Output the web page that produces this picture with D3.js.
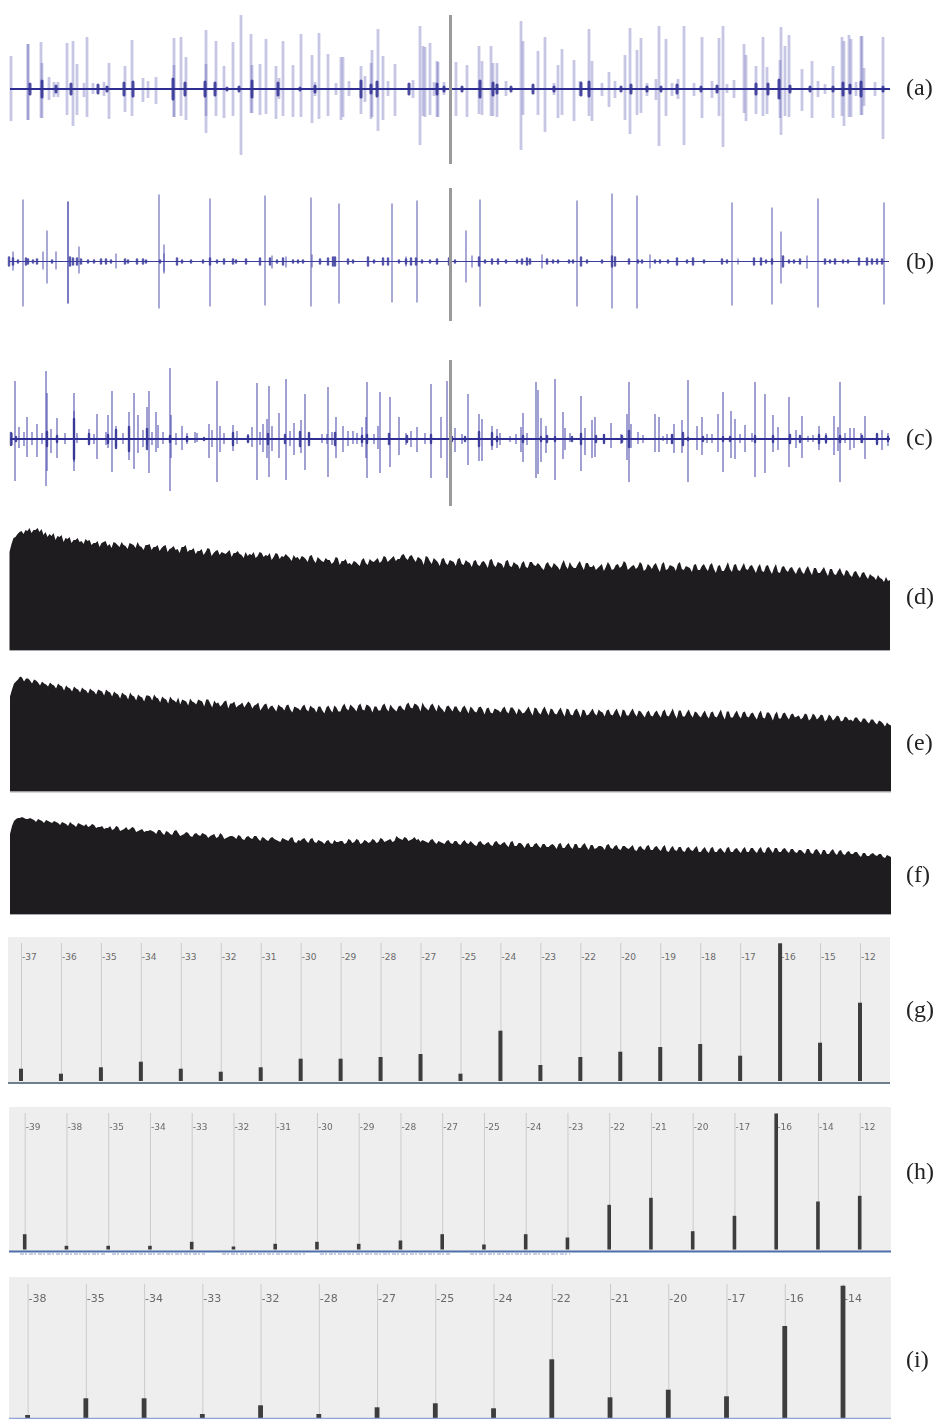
<!DOCTYPE html>
<html>
<head>
<meta charset="utf-8">
<script src="https://cdn.jsdelivr.net/npm/d3@7"></script>
<style>
  html, body { margin: 0; padding: 0; background: #fff; }
  svg { display: block; }
</style>
</head>
<body>
<div id="container"></div>
<script>
// waveform spikes: [time, up, down]
const spikesA = [[11,33,32],[28,45,31],[28,45,31],[41,47,29],[42,26,29],[49,12,11],[54,7,8],[58,7,8],[67,46,26],[73,48,37],[77,25,26],[87,52,28],[84,6,8],[93,6,5],[104,7,7],[109,26,30],[125,23,23],[132,49,27],[143,11,13],[148,8,9],[156,12,15],[174,51,28],[174,24,28],[181,52,27],[186,32,31],[206,59,44],[206,25,27],[216,48,27],[224,23,29],[233,47,27],[241,74,66],[251,55,24],[252,24,24],[260,25,26],[266,50,25],[276,23,30],[279,11,10],[283,48,27],[293,24,28],[301,55,28],[312,34,34],[319,56,30],[315,7,7],[328,35,27],[336,6,6],[341,32,31],[343,32,28],[349,8,7],[361,23,25],[365,13,13],[371,26,30],[372,39,28],[378,60,42],[383,33,31],[388,8,7],[395,25,27],[413,9,9],[420,63,56],[423,43,27],[425,42,28],[430,46,26],[434,7,7],[437,28,28],[438,27,28],[444,7,6],[456,27,27],[467,24,28],[479,43,25],[482,28,26],[491,43,27],[493,26,27],[497,26,28],[506,8,7],[521,68,61],[523,48,26],[538,38,26],[545,52,43],[558,24,29],[562,40,26],[554,6,6],[574,29,32],[580,8,7],[589,60,27],[592,28,32],[602,6,7],[609,17,18],[615,8,9],[625,34,31],[630,61,45],[637,39,26],[641,51,24],[647,6,7],[656,10,11],[659,63,57],[666,50,27],[672,6,7],[678,10,10],[684,63,56],[694,6,7],[702,52,29],[712,8,9],[719,51,27],[723,63,58],[727,5,4],[734,9,9],[744,45,24],[746,34,32],[756,23,25],[763,52,27],[767,22,25],[780,29,29],[781,62,46],[785,43,27],[789,54,28],[802,20,22],[812,28,29],[818,8,8],[825,5,5],[833,23,29],[842,52,27],[844,48,37],[849,54,28],[851,50,28],[856,7,7],[861,53,26],[862,53,26],[864,21,17],[875,7,7],[883,52,50]];
const blobsA = [[30,5],[42,8],[56,3],[71,5],[98,4],[107,2],[124,6],[133,7],[173,10],[185,6],[205,7],[215,6],[227,1],[239,2],[252,8],[278,6],[300,1],[315,3],[361,8],[371,4],[377,7],[409,5],[437,5],[444,2],[462,2],[480,8],[493,6],[497,4],[511,2],[533,4],[554,2],[581,6],[589,7],[621,2],[631,4],[647,2],[661,2],[677,4],[701,2],[717,3],[756,5],[768,5],[779,9],[790,3],[810,2],[833,2],[843,6],[850,4],[861,7],[883,2]];

const spikesB = [[13,10,9],[23,62,45],[43,10,8],[47,31,22],[56,10,8],[68,60,42],[68,60,42],[79,15,12],[116,8,7],[159,67,47],[164,17,12],[164,8,10],[210,63,45],[265,66,44],[272,6,7],[286,5,6],[311,64,45],[312,7,6],[339,58,42],[392,58,41],[417,61,41],[406,5,5],[466,31,21],[472,6,6],[480,62,45],[542,7,7],[577,61,45],[612,68,47],[637,66,47],[650,7,7],[732,59,44],[738,3,3],[772,54,43],[781,30,22],[807,6,7],[818,63,46],[884,59,43]];
const blobsB = [[9,4],[13,3],[18,1],[26,3],[28,2],[33,1],[37,2],[52,1],[70,4],[73,3],[77,3],[81,2],[88,1],[94,1],[101,2],[106,2],[111,1],[125,2],[128,1],[137,2],[143,2],[146,1],[160,1],[177,3],[182,1],[191,1],[203,1],[210,3],[217,1],[224,2],[233,2],[236,1],[246,2],[260,3],[270,3],[277,1],[283,3],[293,1],[298,1],[303,1],[320,2],[328,3],[333,4],[335,4],[348,2],[353,1],[368,4],[374,1],[383,3],[388,3],[399,1],[406,2],[411,3],[416,3],[422,1],[430,1],[437,2],[449,3],[455,1],[479,4],[485,1],[492,2],[498,2],[506,1],[517,1],[522,2],[527,3],[530,2],[547,2],[553,1],[558,1],[569,1],[573,1],[581,4],[587,1],[602,1],[612,5],[615,4],[629,2],[638,1],[642,1],[655,1],[660,1],[668,1],[677,3],[687,1],[693,3],[704,1],[722,2],[727,1],[754,3],[761,3],[766,1],[772,2],[783,5],[789,1],[794,1],[800,2],[825,2],[830,1],[835,2],[843,1],[848,1],[859,3],[867,3],[872,2],[877,2],[882,2]];

const spikesC = [[15,58,42],[12,6,6],[19,12,9],[24,7,7],[27,22,18],[32,7,6],[37,15,18],[42,6,5],[46,68,47],[47,46,32],[51,10,14],[57,21,19],[65,6,5],[74,46,32],[74,28,23],[77,6,4],[89,10,6],[94,5,5],[97,25,20],[106,7,6],[108,24,9],[112,48,33],[116,13,8],[123,6,5],[129,27,21],[134,46,30],[138,24,14],[143,9,8],[147,32,6],[149,48,34],[152,7,6],[156,27,13],[158,14,9],[163,7,5],[170,71,52],[171,24,19],[176,6,6],[182,13,11],[187,6,5],[195,7,4],[197,6,3],[209,15,19],[212,9,8],[217,58,43],[220,13,13],[224,6,5],[233,14,12],[237,8,5],[248,5,3],[252,12,8],[257,56,41],[260,7,6],[263,15,13],[267,20,19],[269,53,38],[272,13,12],[279,26,19],[286,60,41],[290,8,7],[294,16,16],[301,19,14],[305,45,31],[309,6,4],[322,5,4],[327,5,5],[328,52,38],[332,7,6],[336,22,19],[343,13,13],[348,8,7],[353,8,5],[357,6,5],[362,12,8],[366,22,19],[367,57,39],[374,5,5],[378,13,10],[380,47,34],[390,42,28],[399,22,16],[406,6,6],[411,8,8],[417,12,13],[425,6,5],[431,55,39],[441,22,19],[447,58,39],[455,11,13],[462,5,5],[468,45,26],[479,25,22],[482,20,22],[492,13,11],[497,10,9],[500,6,6],[510,3,3],[516,5,5],[523,26,23],[521,12,13],[527,6,6],[536,57,39],[538,49,35],[541,21,23],[546,13,14],[555,60,41],[563,27,20],[565,11,11],[570,6,3],[581,43,32],[585,11,16],[592,19,19],[595,22,18],[604,5,4],[611,16,9],[621,5,5],[627,25,21],[629,57,43],[631,15,9],[638,7,5],[643,4,4],[655,25,13],[659,22,13],[663,3,2],[667,5,5],[672,5,5],[674,15,14],[682,19,14],[688,59,43],[697,13,11],[702,22,16],[707,5,4],[712,5,4],[718,25,13],[723,47,33],[731,28,19],[735,20,20],[740,5,4],[745,14,13],[752,6,3],[755,57,38],[765,45,34],[773,24,13],[778,12,11],[789,42,28],[796,9,9],[802,23,19],[808,3,3],[813,4,3],[819,13,11],[826,6,5],[834,23,16],[838,12,12],[840,57,43],[845,6,4],[850,11,11],[854,11,9],[861,6,4],[865,23,20],[877,5,5],[882,9,11],[888,6,7]];
const blobsC = [[11,6],[16,2],[47,7],[57,3],[74,20],[89,5],[108,4],[116,9],[129,12],[147,10],[170,3],[187,2],[204,1],[233,6],[248,3],[268,5],[285,4],[300,7],[309,6],[335,6],[362,3],[367,4],[389,5],[407,3],[431,4],[452,2],[465,2],[479,7],[492,6],[497,2],[523,3],[541,2],[547,3],[555,2],[572,2],[581,5],[596,3],[604,4],[622,3],[629,8],[672,4],[683,6],[688,1],[703,2],[723,2],[730,2],[755,3],[773,3],[790,4],[800,3],[819,4],[826,3],[840,3],[862,3],[877,5],[888,2]];

// spectrum envelopes: heights every 4 time units, and the in-between readings
const envelopeD = [98,112,116,119,120,122,120,122,121,118,116,117,114,115,112,113,110,112,109,111,110,107,109,107,109,106,108,105,108,104,107,105,108,103,105,106,103,105,102,105,101,104,101,103,105,100,102,99,101,98,101,97,100,98,96,100,97,99,95,98,96,98,94,97,95,97,93,96,94,96,92,95,93,94,91,94,90,93,89,92,90,88,92,89,91,87,89,86,90,87,91,88,92,89,93,90,94,91,95,92,94,91,93,90,94,89,92,88,91,87,90,88,91,86,90,87,89,85,88,86,90,85,88,86,89,84,88,85,87,83,88,85,87,82,86,84,87,83,86,84,88,82,86,84,87,83,85,82,86,83,85,81,86,84,87,82,85,83,86,81,84,85,82,86,80,85,83,86,81,84,82,85,80,84,82,85,81,84,79,83,81,85,80,83,81,84,81,83,79,84,80,82,78,83,80,82,79,81,78,81,79,82,77,80,78,81,76,79,77,80,75,78,75,77,74,76,73,75,71,73,70];
const midD = [106,113,118,116,119,117,120,118,115,113,114,110,113,108,111,107,110,108,106,109,105,107,103,108,104,102,107,103,105,101,106,102,104,100,105,100,103,99,104,98,102,100,97,103,98,100,96,99,95,102,94,99,95,97,98,93,97,96,92,94,95,92,98,93,94,90,97,91,93,94,89,92,90,93,88,95,87,91,88,90,86,93,85,89,86,85,88,84,92,85,89,90,87,94,88,92,89,91,96,90,95,88,92,85,93,86,90,84,92,85,89,84,92,85,88,83,90,84,89,82,91,83,87,82,90,83,86,81,89,82,88,84,85,80,88,82,85,80,90,81,84,82,89,80,87,83,80,84,79,88,80,85,82,89,80,84,81,88,79,86,81,87,78,88,81,84,79,88,80,83,78,86,80,86,79,87,77,85,79,88,78,86,79,87,80,85,77,86,78,85,76,86,77,84,78,83,76,83,76,84,75,82,77,83,74,81,75,82,74,79,73,79,72,78,71,74,70,72,68,69];
const envelopeE = [95,108,112,114,113,111,112,109,110,107,109,106,108,105,106,103,105,102,104,101,103,100,102,100,102,99,100,97,99,96,99,95,97,94,96,95,97,93,95,92,95,91,94,92,90,93,89,92,90,92,88,91,89,87,91,88,90,86,89,87,88,86,89,84,88,85,83,87,84,86,82,85,83,85,82,86,83,85,81,84,82,86,80,85,83,87,83,86,82,87,84,85,81,86,83,87,82,85,83,87,84,88,85,89,83,86,84,87,82,85,83,85,81,84,82,85,80,84,82,83,79,83,81,83,80,84,81,83,78,82,80,84,79,82,80,83,78,81,79,83,77,81,79,82,76,80,78,82,79,81,77,80,78,82,76,80,78,81,77,79,76,79,77,80,76,79,77,81,75,79,77,80,76,78,76,79,75,78,76,80,74,78,76,79,75,78,75,78,74,79,76,77,73,78,75,77,74,76,74,77,73,76,74,76,72,75,73,75,71,74,72,74,71,73,70,72,69,71,68,69,66];
const midE = [102,110,115,110,113,108,111,106,108,105,107,103,106,101,104,100,103,99,102,98,101,97,101,96,100,95,98,93,97,92,96,91,95,90,96,91,94,89,93,88,92,89,87,91,86,90,87,91,85,92,84,88,85,90,83,88,84,87,84,90,83,87,81,87,82,86,80,85,81,87,79,84,81,87,80,84,79,85,78,86,79,84,80,88,81,85,80,88,81,86,79,85,81,88,80,84,80,86,81,89,83,87,80,85,81,88,80,84,79,86,80,85,79,86,78,83,79,85,77,84,78,82,79,85,78,84,77,81,79,85,76,83,77,85,76,82,77,84,75,82,76,83,74,81,77,83,76,80,75,82,76,83,74,81,76,83,75,80,74,81,75,81,74,82,75,83,73,81,75,82,74,79,74,81,73,80,74,82,72,80,74,81,73,80,74,79,72,81,73,79,71,80,73,79,72,78,75,72,78,71,78,72,77,70,77,71,76,70,75,71,70,74,69,73,68,72,67,70,65,67];
const envelopeF = [80,93,96,97,95,96,94,95,93,94,92,93,91,92,90,92,89,91,89,90,88,89,87,88,86,88,85,87,84,87,85,86,83,85,83,84,82,84,81,83,80,83,81,79,82,78,80,79,81,79,78,80,77,79,76,78,77,79,75,77,76,78,75,77,74,76,75,73,76,74,76,72,74,75,73,75,72,74,72,73,71,74,72,73,71,74,72,74,71,73,72,74,72,75,73,75,73,76,74,76,74,77,75,74,72,74,72,73,71,73,71,73,70,72,71,73,69,72,70,71,69,72,70,71,69,72,68,71,69,70,67,70,68,70,67,69,68,70,66,69,67,70,66,69,67,69,65,68,67,69,66,68,65,68,66,67,64,67,65,68,64,67,65,67,63,66,64,67,63,66,64,66,62,65,63,66,62,65,63,66,62,65,63,65,62,66,63,65,62,66,64,66,62,65,63,65,62,64,62,65,61,64,62,64,60,63,61,63,60,62,60,62,59,61,58,60,59,60,57,59,57];
const midF = [88,95,96,96,95,95,92,94,91,93,91,92,89,91,88,90,87,90,88,87,90,86,87,85,86,84,88,83,85,84,87,82,84,82,83,83,80,84,79,82,79,84,78,80,81,77,81,78,80,76,79,76,81,75,77,78,75,78,74,78,75,78,73,76,73,77,74,72,75,73,77,71,73,76,71,76,71,73,70,74,70,72,73,70,75,71,75,70,74,71,75,71,76,72,74,72,78,75,77,73,75,74,72,73,71,75,70,72,70,74,70,73,69,74,70,71,68,73,69,72,68,73,69,72,67,73,68,71,66,71,67,71,66,70,67,70,65,71,66,71,65,70,66,71,64,69,66,68,64,70,65,69,64,68,65,69,63,68,64,69,64,68,63,69,62,68,63,67,62,67,63,68,62,67,61,67,62,66,61,67,62,66,61,67,62,66,61,67,61,67,61,66,62,66,61,65,61,64,60,65,60,65,59,64,60,65,59,64,59,63,60,62,57,61,58,61,58,60,56,58];

// histogram categories and heights
const catsG = ['-37','-36','-35','-34','-33','-32','-31','-30','-29','-28','-27','-25','-24','-23','-22','-20','-19','-18','-17','-16','-15','-12'];
const valsG = [12.3,7.3,13.7,19.3,12.3,9.3,13.7,22.3,22.3,24,27,7.3,50.3,16,24,29.3,34,37,25.3,137.7,38.3,78.3];
const catsH = ['-39','-38','-35','-34','-33','-32','-31','-30','-29','-28','-27','-25','-24','-23','-22','-21','-20','-17','-16','-14','-12'];
const valsH = [15.3,3.7,3.7,3.7,7.7,3,5.7,7.7,5.7,9,15.3,5,15.3,12,44.7,51.7,18.3,33.7,136,48,53.7];
const catsI = ['-38','-35','-34','-33','-32','-28','-27','-25','-24','-22','-21','-20','-17','-16','-14'];
const valsI = [3,19.7,19.7,4,12.7,4,10.7,14.7,9.7,58.7,20.7,28.3,21.7,92,132.3];

const svg = d3.select('#container').append('svg')
  .attr('width', 942)
  .attr('height', 1419)
  .style('filter', 'blur(0.5px)');

const timeX = d3.scaleLinear().domain([10, 890]).range([10, 890]);

function drawWave(cy, spikes, blobs, style) {
  const y = d3.scaleLinear().domain([-80, 80]).range([cy + 80, cy - 80]);
  const g = svg.append('g');

  g.selectAll('.spike')
    .data(spikes)
    .enter()
    .append('line')
    .attr('class', 'spike')
    .attr('x1', d => timeX(d[0]))
    .attr('x2', d => timeX(d[0]))
    .attr('y1', d => y(d[1]))
    .attr('y2', d => y(-d[2]))
    .attr('stroke', style.spike)
    .attr('stroke-width', style.spikeWidth);

  g.append('line')
    .attr('x1', style.x0)
    .attr('x2', style.x1)
    .attr('y1', cy)
    .attr('y2', cy)
    .attr('stroke', style.center)
    .attr('stroke-width', style.centerWidth);

  g.selectAll('.blob')
    .data(blobs)
    .enter()
    .append('line')
    .attr('class', 'blob')
    .attr('x1', d => timeX(d[0]))
    .attr('x2', d => timeX(d[0]))
    .attr('y1', d => y(d[1]))
    .attr('y2', d => y(-d[1]))
    .attr('stroke', style.center)
    .attr('stroke-opacity', 0.85)
    .attr('stroke-linecap', 'round')
    .attr('stroke-width', style.blobWidth);

  // grey marker over the trace
  g.append('line')
    .attr('x1', 450.5)
    .attr('x2', 450.5)
    .attr('y1', style.markTop)
    .attr('y2', style.markBottom)
    .attr('stroke', '#9a9a9a')
    .attr('stroke-width', 3);
}

drawWave(89, spikesA, blobsA, {
  spike: 'rgba(70,70,170,0.3)', spikeWidth: 2.8, center: '#2e2e92', centerWidth: 2, blobWidth: 3,
  x0: 10, x1: 890, markTop: 15, markBottom: 164
});
drawWave(261.5, spikesB, blobsB, {
  spike: 'rgba(70,70,170,0.62)', spikeWidth: 1.5, center: '#3c3c9c', centerWidth: 1.2, blobWidth: 2.4,
  x0: 9, x1: 889, markTop: 188, markBottom: 321
});
drawWave(439, spikesC, blobsC, {
  spike: 'rgba(70,70,170,0.6)', spikeWidth: 1.7, center: '#2e2e92', centerWidth: 2, blobWidth: 2.4,
  x0: 10, x1: 890, markTop: 360, markBottom: 506
});

function drawEnvelope(baseY, values, mids, x0, x1) {
  const edge = values.flatMap((v, i) => i < mids.length ? [v, mids[i]] : [v]);
  const x = d3.scaleLinear().domain([0, edge.length - 1]).range([x0, x1]);
  const y = d3.scaleLinear().domain([0, 130]).range([baseY, baseY - 130]);
  const area = d3.area()
    .x((d, i) => x(i))
    .y0(baseY)
    .y1(d => y(d));

  svg.append('path')
    .attr('d', area(edge))
    .attr('fill', '#1f1c20');

  svg.append('line')
    .attr('x1', x0)
    .attr('x2', x1)
    .attr('y1', baseY + 0.5)
    .attr('y2', baseY + 0.5)
    .attr('stroke', '#a9a9ad')
    .attr('stroke-width', 1);
}

drawEnvelope(650, envelopeD, midD, 9.5, 890);
drawEnvelope(791.5, envelopeE, midE, 10, 891);
drawEnvelope(914, envelopeF, midF, 10, 891);

function drawBars(cats, vals, o) {
  const g = svg.append('g');
  g.append('rect')
    .attr('x', o.left)
    .attr('y', o.top)
    .attr('width', o.right - o.left)
    .attr('height', o.axisY - o.top)
    .attr('fill', '#eeeeee');

  const x = d3.scalePoint().domain(cats).range([o.first, o.last]);
  const y = d3.scaleLinear().domain([0, o.max]).range([o.barY, o.barY - o.max]);

  const axis = g.append('g')
    .attr('transform', `translate(0,${o.lineTop})`)
    .call(d3.axisBottom(x).tickSize(o.barY - o.lineTop).tickFormat(d => d));
  axis.select('.domain').remove();
  axis.selectAll('.tick line').attr('stroke', '#cbcbcb').attr('stroke-width', 1);
  axis.selectAll('.tick text')
    .attr('x', 0.5)
    .attr('y', o.labelDy)
    .attr('dy', 0)
    .attr('text-anchor', 'start')
    .attr('fill', '#6a6a6a')
    .attr('font-family', '"DejaVu Sans", sans-serif')
    .attr('font-size', o.fontSize);

  g.selectAll('.bar')
    .data(vals)
    .enter()
    .append('rect')
    .attr('class', 'bar')
    .attr('x', (d, i) => x(cats[i]) - o.barWidth / 2)
    .attr('y', d => y(d))
    .attr('width', o.barWidth)
    .attr('height', d => y(0) - y(d))
    .attr('fill', '#3d3d3d');

  g.append('line')
    .attr('x1', o.left)
    .attr('x2', o.right)
    .attr('y1', o.axisY)
    .attr('y2', o.axisY)
    .attr('stroke', o.axisColor)
    .attr('stroke-width', o.axisWidth);
}

drawBars(catsG, valsG, {
  left: 8, right: 890, top: 937, axisY: 1083, lineTop: 943, barY: 1081, first: 21, last: 860,
  max: 138, barWidth: 4, labelDy: 17, fontSize: 9, axisColor: '#6d7f8f', axisWidth: 2
});
drawBars(catsH, valsH, {
  left: 9, right: 891, top: 1107, axisY: 1251.5, lineTop: 1113, barY: 1249.5, first: 24.7, last: 859.7,
  max: 137, barWidth: 3.6, labelDy: 17, fontSize: 9, axisColor: '#4f6fa8', axisWidth: 2
});
drawBars(catsI, valsI, {
  left: 9, right: 891, top: 1277, axisY: 1418.5, lineTop: 1284, barY: 1418, first: 27.6, last: 843,
  max: 133, barWidth: 4.8, labelDy: 18, fontSize: 11, axisColor: '#8ea4d8', axisWidth: 1.5
});

// clipped text left under the (h) baseline
svg.selectAll('.scrap')
  .data([[20, 105], [112, 205], [222, 305], [320, 450], [470, 570]])
  .enter()
  .append('line')
  .attr('class', 'scrap')
  .attr('x1', d => d[0])
  .attr('x2', d => d[1])
  .attr('y1', 1254)
  .attr('y2', 1254)
  .attr('stroke', '#b4bdd4')
  .attr('stroke-width', 1.5)
  .attr('stroke-dasharray', '4 1 2 2');

const panelLabels = ['(a)', '(b)', '(c)', '(d)', '(e)', '(f)', '(g)', '(h)', '(i)'];
const labelY = [95, 269, 445, 604, 750, 882, 1017, 1179, 1367];

svg.selectAll('.panel-label')
  .data(panelLabels)
  .enter()
  .append('text')
  .attr('class', 'panel-label')
  .attr('x', 906)
  .attr('y', (d, i) => labelY[i])
  .attr('font-family', '"Liberation Serif", serif')
  .attr('font-size', 24)
  .attr('fill', '#222')
  .text(d => d);
</script>
</body>
</html>
